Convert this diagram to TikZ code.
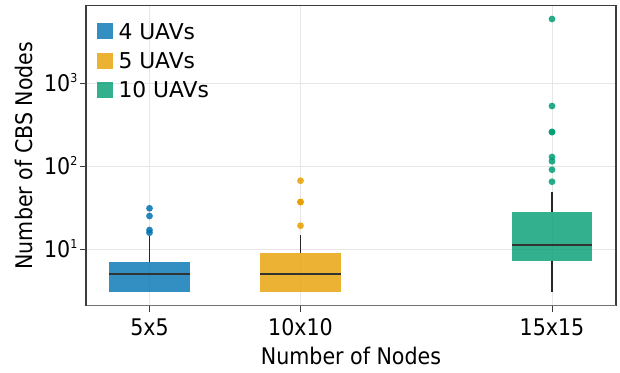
\documentclass[tikz,border=0pt]{standalone}
\usepackage{fontspec}
\setmainfont{DejaVu Sans Condensed}
\newfontfamily\legfont{DejaVu Sans}
\definecolor{cblue}{HTML}{0072B2}
\definecolor{cyel}{HTML}{E69F00}
\definecolor{cgrn}{HTML}{009E73}
\definecolor{gridc}{RGB}{230,230,230}
\definecolor{axc}{RGB}{60,60,60}
\tikzset{
  gridline/.style={gridc, line width=1pt},
  bx/.style={fill=#1, fill opacity=0.8, draw=none},
  whisk/.style={black!85, line width=1.2pt},
  med/.style={black!80, line width=1.8pt},
  dot/.style={circle, fill=#1, fill opacity=0.85, draw=none, inner sep=0pt, minimum size=6.8pt},
  lsq/.style={fill=#1, fill opacity=0.8, draw=none, inner sep=0pt, minimum size=15.5pt},
  big/.style={font=\fontsize{22.9}{26}\selectfont, inner sep=0pt},
  leg/.style={font=\legfont\fontsize{21.8}{24}\selectfont, inner sep=0pt, anchor=base west},
  tk/.style={axc, line width=1pt}
}
\newcommand{\supx}[1]{\raisebox{9.3pt}{\fontsize{12.3}{13}\selectfont #1}}
\begin{document}
\begin{tikzpicture}[x=1pt,y=-1pt]
\useasboundingbox (0,0) rectangle (620,372);
% grid
\draw[gridline] (86,83.3) -- (616,83.3);
\draw[gridline] (86,166) -- (616,166);
\draw[gridline] (86,249.3) -- (616,249.3);
\draw[gridline] (149.5,5.3) -- (149.5,305.7);
\draw[gridline] (300.5,5.3) -- (300.5,305.7);
\draw[gridline] (552,5.3) -- (552,305.7);
% blue box
\draw[whisk] (149.5,261.7) -- (149.5,236);
\fill[bx=cblue] (109.3,261.7) rectangle (190,292.3);
\draw[med] (109.3,273.7) -- (190,273.7);
\node[dot=cblue] (b1) at (149.5,208.3) {};
\node[dot=cblue] (b2) at (149.5,216) {};
\node[dot=cblue] (b3) at (149.5,230) {};
\node[dot=cblue] (b4) at (149.5,232.7) {};
% yellow box
\draw[whisk] (300.5,252.7) -- (300.5,235);
\fill[bx=cyel] (260,252.7) rectangle (341,292.3);
\draw[med] (260,273.7) -- (341,273.7);
\node[dot=cyel] (y1) at (300.5,180.7) {};
\node[dot=cyel] (y2) at (300.5,202) {};
\node[dot=cyel] (y3) at (300.5,202) {};
\node[dot=cyel] (y4) at (300.5,225.7) {};
% green box
\draw[whisk] (552,212.3) -- (552,192.3);
\draw[whisk] (552,261.3) -- (552,291.7);
\fill[bx=cgrn] (512,212.3) rectangle (592.3,261.3);
\draw[med] (512,245.3) -- (592.3,245.3);
\node[dot=cgrn] (g1) at (552,19) {};
\node[dot=cgrn] (g2) at (552,106) {};
\node[dot=cgrn] (g3) at (552,132) {};
\node[dot=cgrn] (g4) at (552,132) {};
\node[dot=cgrn] (g5) at (552,157) {};
\node[dot=cgrn] (g6) at (552,161.3) {};
\node[dot=cgrn] (g7) at (552,169.7) {};
\node[dot=cgrn] (g8) at (552,181.7) {};
% frame
\draw[axc, line width=1.2pt] (86,5.3) -- (616,5.3) -- (616,305.7);
\draw[black!55, line width=1.4pt] (86,305.7) -- (616,305.7);
\draw[axc, line width=1.2pt] (86,5.3) -- (86,306.4);
% ticks
\draw[tk] (80,83.3) -- (86,83.3);
\draw[tk] (80,166) -- (86,166);
\draw[tk] (80,249.3) -- (86,249.3);
\draw[tk] (149.5,305.7) -- (149.5,311.7);
\draw[tk] (300.5,305.7) -- (300.5,311.7);
\draw[tk] (552,305.7) -- (552,311.7);
% tick labels
\node[big, anchor=base east] (yt3) at (77.5,91.6) {10\supx{3}};
\node[big, anchor=base east] (yt2) at (77.5,174.3) {10\supx{2}};
\node[big, anchor=base east] (yt1) at (77.5,257.6) {10\supx{1}};
\node[big, anchor=base] (xt1) at (149.5,335) {5x5};
\node[big, anchor=base] (xt2) at (300.5,335) {10x10};
\node[big, anchor=base] (xt3) at (552,335) {15x15};
% axis titles
\node[big, anchor=base] (xtitle) at (351,364) {Number of Nodes};
\node[big, anchor=base, rotate=90] (ytitle) at (32,155.5) {Number of CBS Nodes};
% legend
\node[lsq=cblue] (l1) at (105,31.2) {};
\node[lsq=cyel] (l2) at (105,60.8) {};
\node[lsq=cgrn] (l3) at (105,90) {};
\node[leg] (lt1) at (118.3,39.3) {4 UAVs};
\node[leg] (lt2) at (118.3,68.6) {5 UAVs};
\node[leg] (lt3) at (118.3,97.8) {10 UAVs};
\end{tikzpicture}
\end{document}
